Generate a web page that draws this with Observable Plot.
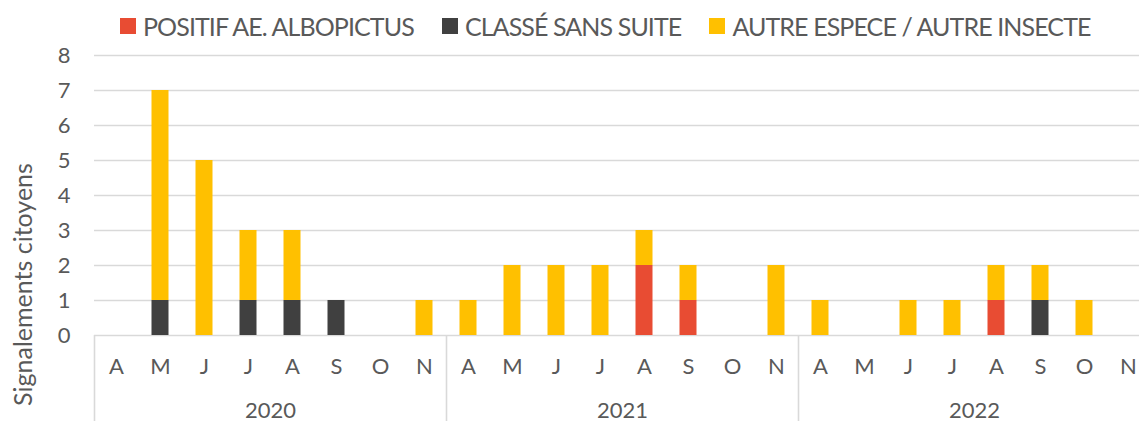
<!DOCTYPE html>
<html>
<head>
<meta charset="utf-8">
<script src="https://cdn.jsdelivr.net/npm/d3@7"></script>
<script src="https://cdn.jsdelivr.net/npm/@observablehq/plot@0.6"></script>
<style>
  html, body { margin: 0; padding: 0; background: #fff; }
  #wrap { position: relative; width: 1139px; height: 421px; overflow: hidden; font-family: Lato, sans-serif; color: #595959; }
  #legend { position: absolute; left: 120px; top: 11px; display: flex; align-items: center; font-size: 25px; letter-spacing: -0.9px; white-space: nowrap; }
  #legend .item { display: flex; align-items: center; margin-right: 28px; }
  #legend .sw { width: 16px; height: 16px; margin-right: 7px; }
  #chart { position: absolute; left: 0; top: 0; }
</style>
</head>
<body>
<div id="wrap">
  <div id="chart"></div>
  <div id="legend"></div>
</div>
<script>
const years = ["2020", "2021", "2022"];
const months = ["A", "M", "J", "J", "A", "S", "O", "N"];
const seriesNames = ["POSITIF AE. ALBOPICTUS", "CLASSÉ SANS SUITE", "AUTRE ESPECE / AUTRE INSECTE"];
const seriesColors = ["#E84C33", "#404040", "#FFC000"];
// values per month, Apr..Nov for 2020, 2021, 2022
const positif = [0,0,0,0,0,0,0,0, 0,0,0,0,2,1,0,0, 0,0,0,0,1,0,0,0];
const classe  = [0,1,0,1,1,1,0,0, 0,0,0,0,0,0,0,0, 0,0,0,0,0,1,0,0];
const autre   = [0,6,5,2,2,0,0,1, 1,2,2,2,1,1,0,2, 1,0,1,1,1,1,1,0];
const yTicks = [0,1,2,3,4,5,6,7,8];
const yTitle = "Signalements citoyens";

const keys = [];
const monthOf = {};
years.forEach(y => months.forEach((m, i) => { const k = y + "-" + i; keys.push(k); monthOf[k] = m; }));

const seriesValues = [positif, classe, autre];
const data = [];
keys.forEach((k, idx) => {
  seriesNames.forEach((s, si) => {
    const v = seriesValues[si][idx];
    if (v > 0) data.push({key: k, series: s, value: v});
  });
});

const yearStarts = years.map(y => y + "-0");
const yearMids = years.map(y => ({key: y + "-3", label: y}));

const step = (1150 - 94) / keys.length;

const chart = Plot.plot({
  width: 1139,
  height: 421,
  marginTop: 55,
  marginBottom: 86,
  marginLeft: 94,
  marginRight: 0,
  style: {fontFamily: "Lato, sans-serif", fontSize: "22px", color: "#595959", background: "#fff", overflow: "visible"},
  x: {domain: keys, range: [94, 1150], padding: 0, axis: null, label: null},
  y: {domain: [0, 8], axis: null, label: null},
  color: {domain: seriesNames, range: seriesColors},
  marks: [
    Plot.ruleY(yTicks, {stroke: "#D9D9D9", strokeWidth: 1.6, strokeOpacity: 1}),
    Plot.barY(data, {x: "key", y: "value", fill: "series", order: seriesNames, insetLeft: 13.5, insetRight: 13.5}),
    Plot.axisY(yTicks, {tickSize: 0, tickPadding: 24, fill: "#595959", fontSize: 22, tickFormat: d => d, label: null}),
    Plot.axisX(keys, {tickSize: 0, tickPadding: 23, fill: "#595959", fontSize: 22, tickFormat: k => monthOf[k], label: null}),
    Plot.ruleX(yearStarts, {x: d => d, dx: -step / 2, stroke: "#D9D9D9", strokeWidth: 1.6, y1: 0, insetBottom: -86}),
    Plot.ruleX([years[years.length - 1] + "-7"], {x: d => d, dx: step / 2, stroke: "#D9D9D9", strokeWidth: 1.6, y1: 0, insetBottom: -86}),
    Plot.text(yearMids, {x: "key", text: "label", dx: step / 2, frameAnchor: "bottom", dy: 82, lineAnchor: "bottom", fill: "#595959", fontSize: 22}),
    Plot.text([yTitle], {text: d => d, frameAnchor: "left", textAnchor: "middle", dx: -71, dy: 89, rotate: -90, fill: "#595959", fontSize: 25, lineAnchor: "middle"})
  ]
});
document.getElementById("chart").appendChild(chart);

const legend = document.getElementById("legend");
seriesNames.forEach((s, i) => {
  const item = document.createElement("div");
  item.className = "item";
  const sw = document.createElement("div");
  sw.className = "sw";
  sw.style.background = seriesColors[i];
  const t = document.createElement("span");
  t.textContent = s;
  item.appendChild(sw);
  item.appendChild(t);
  legend.appendChild(item);
});
</script>
</body>
</html>
